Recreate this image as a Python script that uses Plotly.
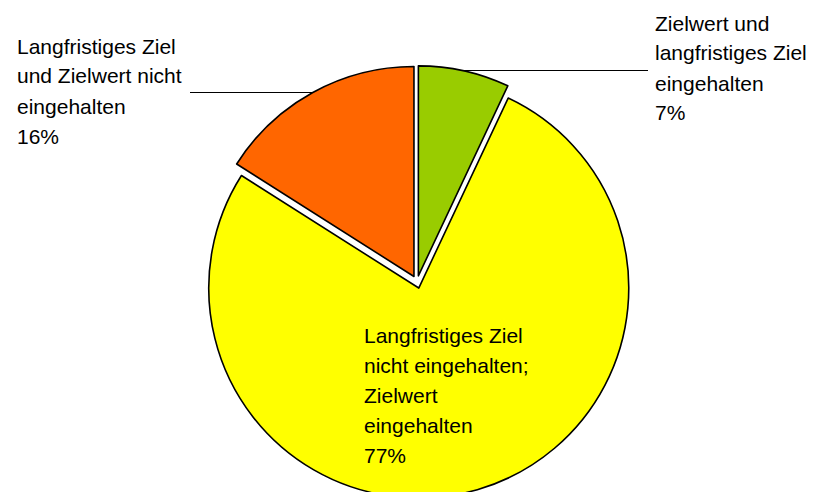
import plotly.graph_objects as go

# ---- data ----
categories = [
    "Zielwert und langfristiges Ziel eingehalten",
    "Langfristiges Ziel nicht eingehalten; Zielwert eingehalten",
    "Langfristiges Ziel und Zielwert nicht eingehalten",
]
values = [7, 77, 16]
label_lines = [
    ["Zielwert und", "langfristiges Ziel", "eingehalten"],
    ["Langfristiges Ziel", "nicht eingehalten;", "Zielwert", "eingehalten"],
    ["Langfristiges Ziel", "und Zielwert nicht", "eingehalten"],
]
colors = ["#99CC00", "#FFFF00", "#FF6600"]

W, H = 815, 492
OFF = 8  # page body margin: figure pixel = page pixel - OFF

# pie geometry (page pixels)
CX, CY, R, PULL = 417 - OFF, 282 - OFF, 210, 0.03
half = R * (1 + PULL)
dom_x = [(CX - half) / W, (CX + half) / W]
dom_y = [max(0.0, (H - (CY + half)) / H), (H - (CY - half)) / H]

fig = go.Figure(go.Pie(
    labels=categories,
    values=values,
    sort=False,
    direction="clockwise",
    rotation=0,
    pull=[PULL] * len(values),
    marker=dict(colors=colors, line=dict(color="#000000", width=1.6)),
    textinfo="none",
    hoverinfo="label+percent",
    showlegend=False,
    domain=dict(x=dom_x, y=dom_y),
))

# label positions: left x and first line center y (page pixels), line spacing
label_pos = [(653, 23), (362, 335), (15, 46)]
LINE = 30
annotations = []
for lines, v, (lx, ly) in zip(label_lines, values, label_pos):
    all_lines = lines + [f"{v}%"]
    for i, t in enumerate(all_lines):
        annotations.append(dict(
            x=(lx - OFF) / W, y=1 - (ly - OFF + i * LINE) / H,
            xref="paper", yref="paper",
            text=t, showarrow=False, xanchor="left", yanchor="middle",
            font=dict(family="Liberation Sans, Arial, sans-serif", size=21, color="#000000"),
        ))

# leader lines (page pixels)
leaders = [((463, 70), (648, 70)), ((190, 92), (312, 92))]
shapes = []
for (x0, y0), (x1, y1) in leaders:
    shapes.append(dict(type="line", xref="paper", yref="paper",
                       x0=(x0 - OFF) / W, y0=1 - (y0 - OFF + 0.5) / H,
                       x1=(x1 - OFF) / W, y1=1 - (y1 - OFF + 0.5) / H,
                       line=dict(color="#000000", width=1)))

fig.update_layout(
    width=W, height=H,
    margin=dict(l=0, r=0, t=0, b=0),
    paper_bgcolor="#FFFFFF",
    plot_bgcolor="#FFFFFF",
    annotations=annotations,
    shapes=shapes,
)

fig.write_html("out.html")
